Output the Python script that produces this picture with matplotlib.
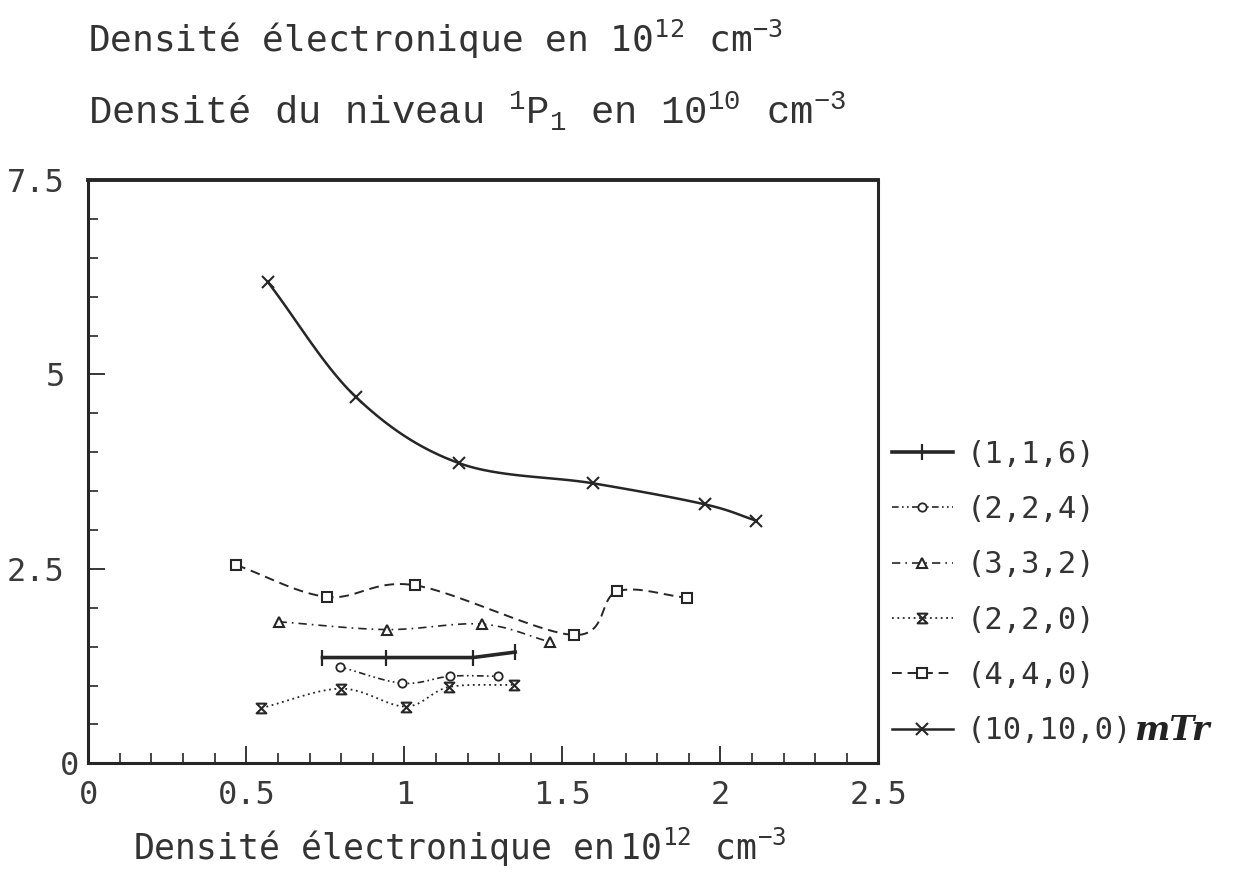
import matplotlib.pyplot as plt
import numpy as np
from matplotlib.lines import Line2D
from matplotlib.path import Path
from matplotlib.ticker import MultipleLocator
from matplotlib.transforms import ScaledTranslation

plt.rcParams['mathtext.fontset'] = 'custom'
plt.rcParams['mathtext.rm'] = 'DejaVu Sans Mono'

# values
x_116 = [0.741, 0.943, 1.217, 1.351]
y_116 = [1.36, 1.36, 1.36, 1.43]

x_224 = [0.796, 0.994, 1.146, 1.297]
y_224 = [1.24, 1.03, 1.12, 1.12]

x_332 = [0.602, 0.944, 1.246, 1.462]
y_332 = [1.82, 1.72, 1.79, 1.56]

x_220 = [0.547, 0.800, 1.004, 1.141, 1.346]
y_220 = [0.71, 0.96, 0.73, 0.98, 1.01]

x_440 = [0.468, 0.755, 1.033, 1.538, 1.674, 1.894]
y_440 = [2.55, 2.14, 2.29, 1.65, 2.21, 2.13]

x_10 = [0.568, 0.847, 1.173, 1.598, 1.951, 2.114]
y_10 = [6.19, 4.71, 3.86, 3.60, 3.33, 3.12]

labels = ["(1,1,6)", "(2,2,4)", "(3,3,2)", "(2,2,0)", "(4,4,0)", "(10,10,0)"]
x_ticks = [0, 0.5, 1, 1.5, 2, 2.5]
x_ticklabels = ["0", "0.5", "1", "1.5", "2", "2.5"]
y_ticks = [0, 2.5, 5, 7.5]
y_ticklabels = ["0", "2.5", "5", "7.5"]


def smooth(x, y, n=24):
    # Catmull-Rom curve through the measured points (drawing only)
    pts = np.column_stack([x, y])
    p = np.vstack([2 * pts[0] - pts[1], pts, 2 * pts[-1] - pts[-2]])
    t = np.linspace(0, 1, n, endpoint=False)[:, None]
    out = []
    for i in range(1, len(p) - 2):
        p0, p1, p2, p3 = p[i - 1], p[i], p[i + 1], p[i + 2]
        seg = 0.5 * (2 * p1 + (-p0 + p2) * t
                     + (2 * p0 - 5 * p1 + 4 * p2 - p3) * t ** 2
                     + (-p0 + 3 * p1 - 3 * p2 + p3) * t ** 3)
        out.append(seg)
    out.append(pts[-1:])
    c = np.vstack(out)
    return c[:, 0], c[:, 1]


hourglass = Path([(-1, 1), (1, 1), (-1, -1), (1, -1), (-1, 1)],
                 [Path.MOVETO, Path.LINETO, Path.LINETO, Path.LINETO, Path.CLOSEPOLY])

ink = "#262626"
series = [
    (x_116, y_116, dict(ls="-", lw=2.6), dict(marker="|", ms=12, mew=1.6), False),
    (x_224, y_224, dict(ls=(0, (4, 2, 1, 2, 1, 2)), lw=1.2), dict(marker="o", ms=6, mfc="white", mew=1.3), True),
    (x_332, y_332, dict(ls=(0, (5, 3, 1, 3)), lw=1.2), dict(marker="^", ms=7, mfc="white", mew=1.5), True),
    (x_220, y_220, dict(ls=(0, (1, 2)), lw=1.3), dict(marker=hourglass, ms=7, mfc="white", mew=1.5), True),
    (x_440, y_440, dict(ls=(0, (5, 3)), lw=1.4), dict(marker="s", ms=7, mfc="white", mew=1.5), True),
    (x_10, y_10, dict(ls="-", lw=1.8), dict(marker="x", ms=8, mew=1.5), True),
]

fig = plt.figure(figsize=(12.56, 8.81), dpi=100)
ax = fig.add_axes([0.0703, 0.1336, 0.629, 0.662])

handles = []
for xs, ys, lstyle, mstyle, curved in series:
    if curved:
        cx, cy = smooth(xs, ys)
    else:
        cx, cy = xs, ys
    ax.plot(cx, cy, color=ink, **lstyle)
    ax.plot(xs, ys, ls="none", color=ink, mec=ink, **mstyle)
    handles.append(Line2D([], [], color=ink, mec=ink, **lstyle, **mstyle))

ax.set_xlim(0, 2.5)
ax.set_ylim(0, 7.5)
ax.set_xticks(x_ticks)
ax.set_xticklabels(x_ticklabels)
ax.set_yticks(y_ticks)
ax.set_yticklabels(y_ticklabels)
ax.xaxis.set_minor_locator(MultipleLocator(0.1))
ax.yaxis.set_minor_locator(MultipleLocator(0.5))
ax.tick_params(which="both", direction="in", color=ink, top=False, right=False)
ax.tick_params(which="major", length=12, width=1.3, labelsize=23, labelcolor="#3a3a3a")
ax.tick_params(axis="x", which="major", pad=12)
ax.tick_params(axis="y", which="major", pad=17)
ax.tick_params(which="minor", length=7, width=1.2)
for lab in ax.get_xticklabels() + ax.get_yticklabels():
    lab.set_family("DejaVu Sans Mono")
# the "0" of the y axis sits closer to the frame in the original
ylab0 = ax.get_yticklabels()[0]
ylab0.set_transform(ylab0.get_transform() + ScaledTranslation(0.14, 0, fig.dpi_scale_trans))
for s in ax.spines.values():
    s.set_linewidth(2.2)
    s.set_color(ink)
ax.spines["top"].set_linewidth(2.8)

leg = fig.legend(handles, labels, loc="upper left", bbox_to_anchor=(0.688, 0.532),
                 frameon=False, handlelength=2.0, handletextpad=0.45, labelspacing=0.86,
                 prop={"family": "DejaVu Sans Mono", "size": 22})
for t in leg.get_texts():
    t.set_color("#333333")

fig.text(0.903, 0.171, "mTr", fontsize=24, fontweight="bold", fontstyle="italic",
         color="#222222", va="center", family="DejaVu Serif")

fig.text(0.070, 0.955, r"Densité électronique en $\mathregular{10^{12}\ \ cm^{-3}}$",
         fontsize=26, family="DejaVu Sans Mono", color="#333333", va="center")
fig.text(0.070, 0.874, r"Densité du niveau $\mathregular{^{1}P_{1}}$ en $\mathregular{10^{10}\ \ cm^{-3}}$",
         fontsize=28, family="Liberation Mono", color="#333333", va="center")
fig.text(0.106, 0.038, r"Densité électronique en$\mathregular{\,10^{12}\ \ cm^{-3}}$",
         fontsize=25, family="DejaVu Sans Mono", color="#333333", va="center")

fig.savefig("out.png", dpi=100)
